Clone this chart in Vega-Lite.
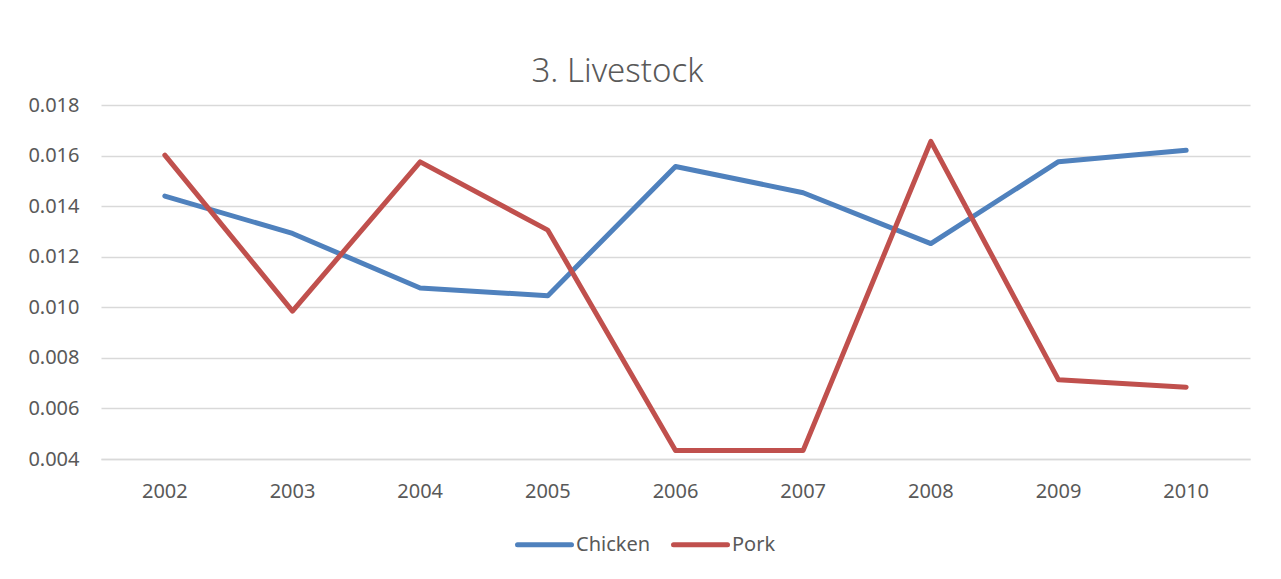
{
  "$schema": "https://vega.github.io/schema/vega-lite/v6.json",
  "width": 1149,
  "height": 354,
  "autosize": {"type": "none"},
  "padding": {"left": 101, "top": 105, "right": 31, "bottom": 120},
  "background": "white",
  "config": {
    "view": {"stroke": null},
    "font": "Noto Sans"
  },
  "title": {
    "text": "3. Livestock",
    "fontSize": 33,
    "fontWeight": 300,
    "font": "Noto Sans",
    "color": "#595959",
    "anchor": "middle",
    "dx": -58,
    "offset": 6
  },
  "data": {
    "values": [
      {"year": "2002", "type": "Chicken", "value": 0.01440},
      {"year": "2003", "type": "Chicken", "value": 0.01292},
      {"year": "2004", "type": "Chicken", "value": 0.01076},
      {"year": "2005", "type": "Chicken", "value": 0.01046},
      {"year": "2006", "type": "Chicken", "value": 0.01557},
      {"year": "2007", "type": "Chicken", "value": 0.01453},
      {"year": "2008", "type": "Chicken", "value": 0.01252},
      {"year": "2009", "type": "Chicken", "value": 0.01576},
      {"year": "2010", "type": "Chicken", "value": 0.01621},
      {"year": "2002", "type": "Pork", "value": 0.01602},
      {"year": "2003", "type": "Pork", "value": 0.00985},
      {"year": "2004", "type": "Pork", "value": 0.01575},
      {"year": "2005", "type": "Pork", "value": 0.01305},
      {"year": "2006", "type": "Pork", "value": 0.00434},
      {"year": "2007", "type": "Pork", "value": 0.00434},
      {"year": "2008", "type": "Pork", "value": 0.01656},
      {"year": "2009", "type": "Pork", "value": 0.00713},
      {"year": "2010", "type": "Pork", "value": 0.00684}
    ]
  },
  "mark": {"type": "line", "strokeWidth": 5, "strokeCap": "round", "strokeJoin": "round"},
  "encoding": {
    "x": {
      "field": "year",
      "type": "ordinal",
      "scale": {"type": "band", "paddingInner": 0, "paddingOuter": 0},
      "axis": {
        "title": null,
        "labelAngle": 0,
        "labelFontSize": 20,
        "labelColor": "#595959",
        "labelPadding": 22,
        "ticks": false,
        "domain": true,
        "domainColor": "#d9d9d9",
        "domainWidth": 1.5,
        "grid": false
      }
    },
    "y": {
      "field": "value",
      "type": "quantitative",
      "scale": {"domain": [0.004, 0.018], "nice": false, "zero": false},
      "axis": {
        "title": null,
        "values": [0.004, 0.006, 0.008, 0.010, 0.012, 0.014, 0.016, 0.018],
        "format": ".3f",
        "labelFontSize": 20,
        "labelColor": "#595959",
        "labelPadding": 22,
        "ticks": false,
        "domain": false,
        "grid": true,
        "gridColor": "#d9d9d9",
        "gridWidth": 1.5
      }
    },
    "color": {
      "field": "type",
      "type": "nominal",
      "scale": {"domain": ["Chicken", "Pork"], "range": ["#4F81BD", "#C0504D"]},
      "legend": {
        "title": null,
        "orient": "none",
        "direction": "horizontal",
        "legendX": 414,
        "legendY": 410,
        "padding": 0,
        "symbolType": "stroke",
        "symbolSize": 2916,
        "symbolStrokeWidth": 5,
        "labelFontSize": 20,
        "labelColor": "#595959",
        "labelOffset": 2,
        "columnPadding": 12,
        "encode": {
          "symbols": {"update": {"strokeCap": {"value": "round"}}}
        }
      }
    }
  }
}
